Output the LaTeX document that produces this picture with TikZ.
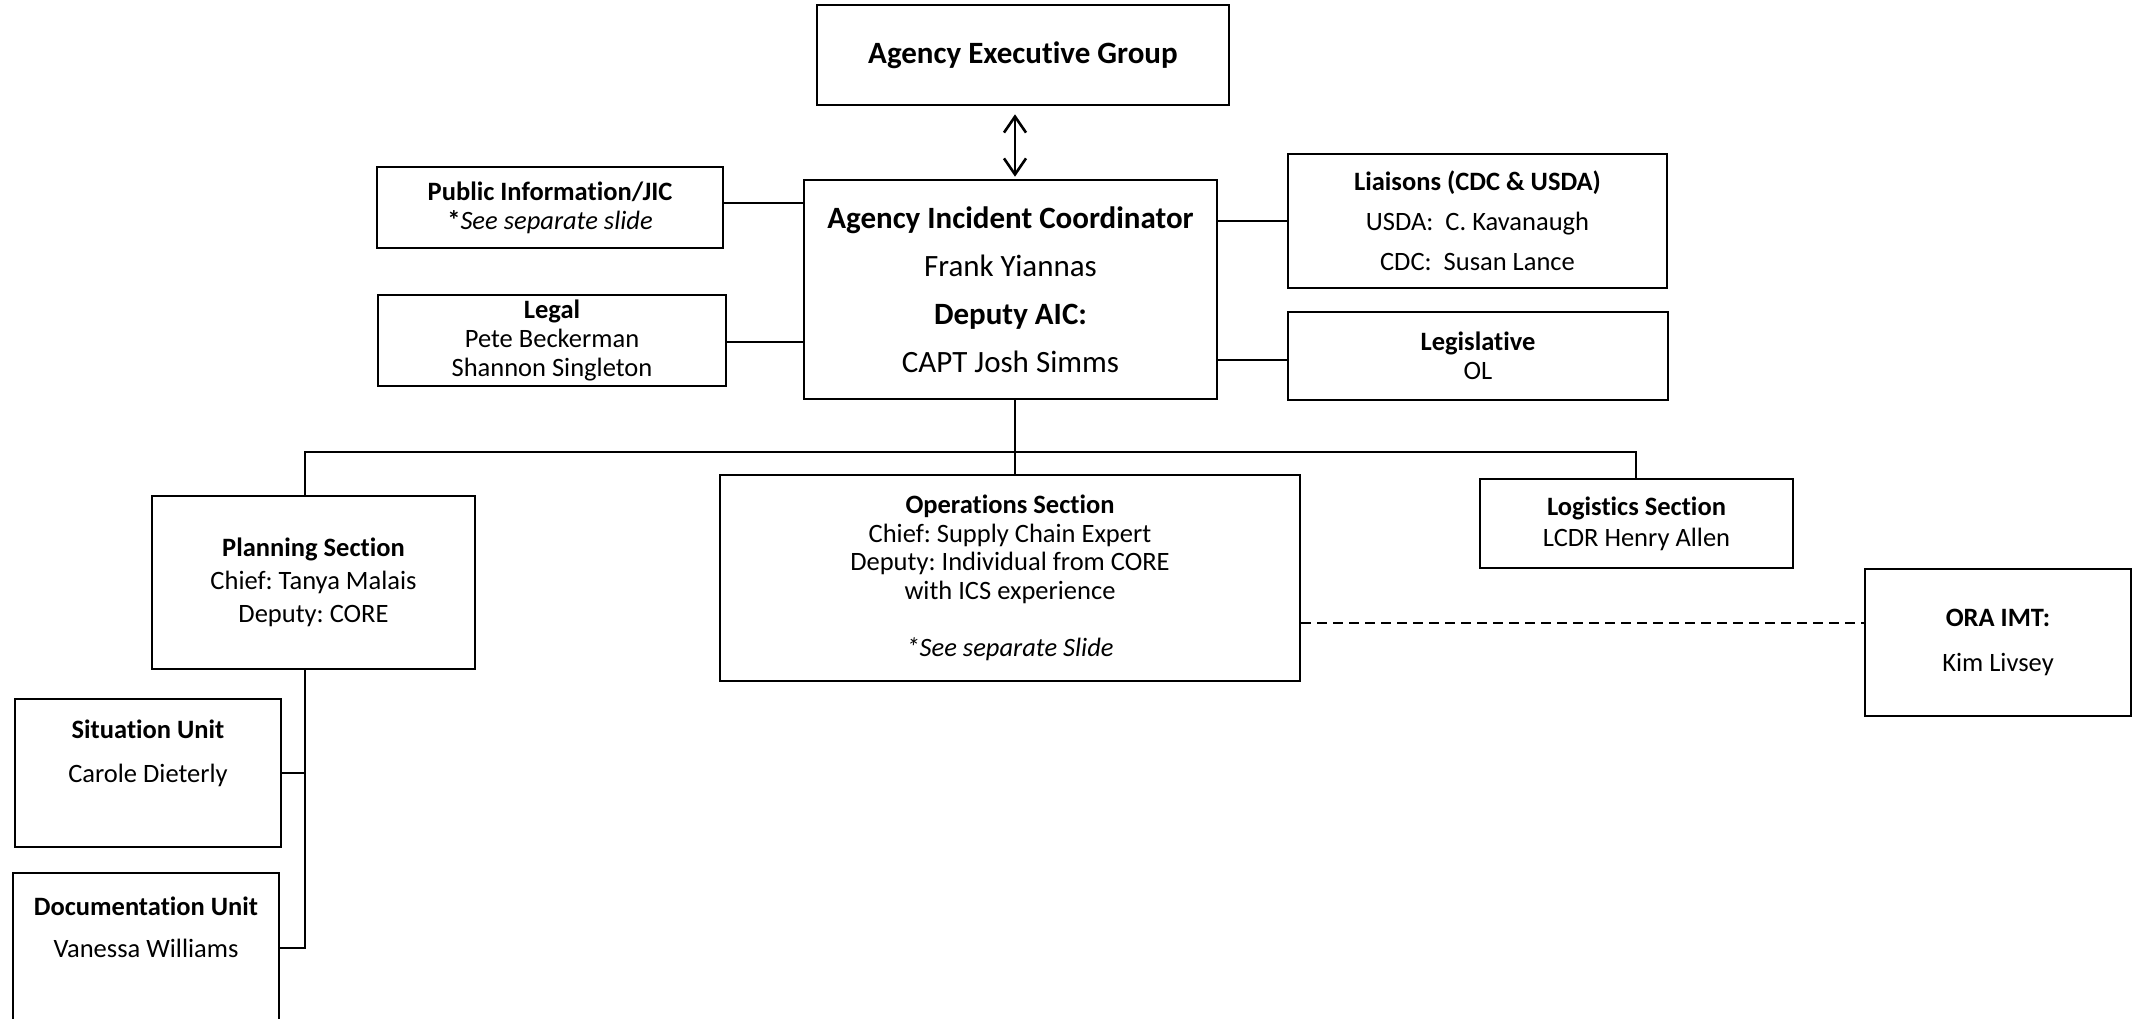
\documentclass[tikz,border=0pt]{standalone}
\usepackage{fontspec}
\setmainfont{Carlito}[Ligatures={NoCommon}, RawFeature={-liga;-clig;-calt;-dlig}]
\frenchspacing
\usetikzlibrary{arrows.meta}
\newcommand{\bigtxt}{\fontsize{31}{48}\selectfont}
\newcommand{\smtxt}[1]{\fontsize{26.5}{#1}\selectfont}
\tikzset{
  box/.style={draw, line width=2.6pt, inner sep=0pt, align=center, text=black},
  conn/.style={line width=2.6pt},
  dashline/.style={line width=2pt, dash pattern=on 10pt off 6pt},
  barb/.tip={Straight Barb[length=16pt,width=22pt,line width=2.6pt]}
}
\begin{document}
\begin{tikzpicture}[x=1pt,y=-1pt]
\path[use as bounding box, clip] (0,0) rectangle (2139,1019);
\fill[white] (0,0) rectangle (2139,1019);

% boxes
\node[box, minimum width=412pt, minimum height=100pt, font=\bigtxt\bfseries] (aeg) at (1023,55) {Agency Executive Group};
\node[box, minimum width=413pt, minimum height=219pt, font=\bigtxt] (aic) at (1010.5,289.5)
  {\textbf{Agency Incident Coordinator}\\Frank Yiannas\\\textbf{Deputy AIC:}\\CAPT Josh Simms};
\node[box, minimum width=346pt, minimum height=81pt, font=\smtxt{29}] (pub) at (550,207.5)
  {\textbf{Public Informat\kern0pt ion/JIC}\\\textbf{*}\textit{See separate slide}};
\node[box, minimum width=348pt, minimum height=91pt, font=\smtxt{29}] (legal) at (552,340.5)
  {\textbf{Legal}\\Pete Beckerman\\Shannon Singleton};
\node[box, minimum width=379pt, minimum height=134pt, font=\smtxt{40}] (liai) at (1477.5,221)
  {\textbf{Liaisons (CDC \& USDA)}\\USDA:\ \ C. Kavanaugh\\CDC:\ \ Susan Lance};
\node[box, minimum width=380pt, minimum height=88pt, font=\smtxt{29}] (legis) at (1478,356)
  {\textbf{Legislat\kern0pt ive}\\OL};
\node[box, minimum width=323pt, minimum height=173pt, font=\smtxt{33}] (plan) at (313.5,582.5)
  {\textbf{Planning Sect\kern0pt ion}\\Chief: Tanya Malais\\Deputy: CORE};
\node[box, minimum width=580pt, minimum height=206pt, font=\smtxt{28.7}] (ops) at (1010,578)
  {\textbf{Operat\kern0pt ions Sect\kern0pt ion}\\Chief: Supply Chain Expert\\Deputy: Individual from CORE\\with ICS experience\\[28.7pt]\textit{*See separate Slide}};
\node[box, minimum width=313pt, minimum height=89pt, font=\smtxt{31}] (logi) at (1636.5,523.5)
  {\textbf{Logist\kern0pt ics Sect\kern0pt ion}\\LCDR Henry Allen};
\node[box, minimum width=266pt, minimum height=147pt, font=\smtxt{45}] (ora) at (1998,642.5)
  {\textbf{ORA IMT:}\\Kim Livsey};
\node[box, minimum width=266pt, minimum height=148pt, font=\smtxt{44}] (sit) at (148,773)
  {\textbf{Situat\kern0pt ion Unit}\\Carole Dieterly\\\mbox{}};
\node[box, minimum width=266pt, minimum height=150pt, font=\smtxt{42}] (doc) at (146,948)
  {\textbf{Documentat\kern0pt ion Unit}\\Vanessa Williams\\\mbox{}};

% helper coordinates
\coordinate (ax) at (1015,0);
\coordinate (busL) at (305,452);
\coordinate (busR) at (1636,452);
\coordinate (trunk) at (1015,452);

% connectors
\draw[conn, barb-barb, shorten <=8pt, shorten >=2pt] (aeg.south -| ax) -- (aic.north -| ax);
\draw[conn] ([yshift=4.5pt]pub.east) -- ([yshift=4.5pt]pub.east -| aic.west);
\draw[conn] ([yshift=-1.5pt]legal.east) -- ([yshift=-1.5pt]legal.east -| aic.west);
\draw[conn] (liai.west -| aic.east) -- (liai.west);
\draw[conn] ([yshift=-4pt]legis.west -| aic.east) -- ([yshift=-4pt]legis.west);
\draw[conn] (aic.south -| trunk) -- (ops.north -| trunk);
\draw[conn] (plan.north -| busL) -- (busL) -- (busR) -- (logi.north -| busR);
\draw[conn] (plan.south -| busL) -- (doc.east -| busL) -- (doc.east);
\draw[conn] (sit.east) -- (sit.east -| busL);
\draw[dashline] ([yshift=-45pt]ops.east) -- ([yshift=-45pt]ops.east -| ora.west);
\end{tikzpicture}
\end{document}
